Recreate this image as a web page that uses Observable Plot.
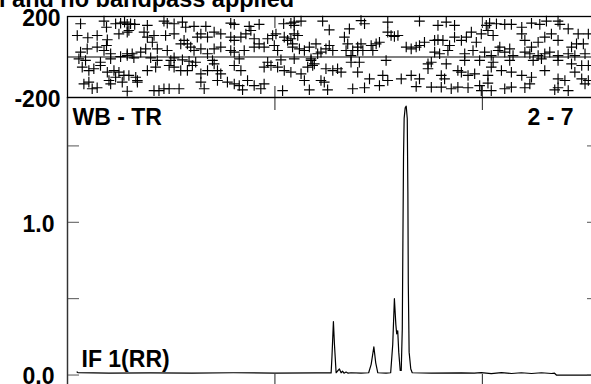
<!DOCTYPE html>
<html><head><meta charset="utf-8">
<script src="https://cdn.jsdelivr.net/npm/d3@7"></script>
<script src="https://cdn.jsdelivr.net/npm/@observablehq/plot@0.6"></script>
<style>
html,body{margin:0;padding:0;background:#fff;overflow:hidden;}
#wrap{position:relative;width:591px;height:384px;overflow:hidden;background:#fff;}
#wrap svg{position:absolute;left:0;top:0;}
#title{position:absolute;left:-1px;top:-11.8px;font:bold 23.5px/23.5px "Liberation Sans",Arial,sans-serif;white-space:nowrap;color:#000;}
</style></head><body>
<div id="wrap"><div id="title">l and no bandpass applied</div></div>
<script>
// ---- data ----
const chanDomain = [0, 256];
const chanTicks = [100, 200];
const phaseDomain = [-200, 200];
const phaseTickLabels = [-200, 200];
const ampDomain = [-0.075, 1.817];
const ampTicks = [0, 0.5, 1.0, 1.5];
const ampTickLabels = [0, 1.0];
const panelLabels = ["WB - TR", "2 - 7", "IF 1(RR)"];

// phase samples [channel, degrees]
const phaseSamples = [
[6.3,164],[17.6,177],[18.8,147],[23.2,164],[25.6,167],[27.5,172],[28.8,161],[30.4,164],[32.4,161],[38.5,156],[46.5,177],[48.1,167],[51.4,164],[55.4,172],[57.0,147],[61.0,151],[66.7,151],[78.7,167],[80.4,161],[87.6,151],[92.4,161],[104.2,164],[107.7,167],[109.3,156],
[4.7,106],[9.8,95],[14.3,106],[19.2,85],[18.8,57],[24.8,114],[28.8,123],[29.6,131],[36.9,123],[38.5,98],[41.7,106],[40.9,73],[47.3,106],[51.4,114],[56.2,82],[57.8,65],[62.6,98],[64.3,114],[67.5,98],[70.7,123],[73.9,114],[78.7,98],[80.4,82],[83.6,98],[86.0,114],[88.4,131],[90.0,90],[92.4,65],[96.5,90],[98.9,106],[100.5,114],[104.5,98],[106.1,82],[109.3,114],[111.0,106],
[6.3,24],[9.5,40],[14.3,49],[17.6,32],[20.8,16],[28.8,16],[31.2,16],[35.3,24],[37.7,40],[43.3,40],[48.1,32],[54.6,65],[59.4,49],[61.0,32],[64.3,40],[67.5,16],[70.7,40],[73.9,49],[78.7,32],[80.4,24],[85.2,32],[90.0,49],[94.8,49],[99.7,57],[101.3,32],[108.5,49],
[5.5,-9],[8.7,-17],[15.9,-26],[20.8,-9],[25.6,2],[28.8,7],[32.0,-4],[40.1,-4],[43.3,-17],[49.8,-17],[51.4,-4],[55.4,-14],[58.6,-21],[61.8,-26],[69.9,-17],[70.7,-34],[82.8,-9],[96.5,-26],[102.9,-14],[109.3,-9],
[7.1,-50],[10.3,-67],[12.7,-58],[15.9,-42],[19.2,-75],[22.4,-67],[23.2,-100],[24.8,-75],[27.2,-91],[29.6,-91],[32.9,-100],[33.7,-116],[38.5,-67],[42.5,-50],[49.0,-42],[51.4,-50],[54.6,-67],[57.8,-67],[60.2,-42],[64.3,-83],[67.5,-67],[72.3,-67],[73.9,-83],[80.4,-42],[83.6,-67],[94.8,-50],[98.1,-42],[101.3,-50],[104.5,-67],[107.7,-75],
[7.9,-133],[10.3,-124],[11.9,-157],[14.3,-152],[20.0,-116],[20.8,-133],[26.4,-124],[28.8,-169],[33.7,-124],[41.7,-166],[44.1,-166],[46.5,-157],[49.0,-157],[53.8,-157],[64.3,-124],[65.9,-157],[72.3,-116],[77.1,-124],[80.4,-133],[82.8,-141],[84.4,-162],[86.8,-116],[90.0,-141],[93.2,-157],[94.8,-133],[103.7,-166],
[109.3,172],[112.6,177],[123.0,177],[126.2,134],[135.9,139],[141.5,180],[143.2,164],[154.4,172],[169.7,177],[178.6,156],[182.6,172],[186.6,156],[201.9,156],[203.5,167],[206.8,164],[210.8,161],[214.0,161],[219.0,147],[223.7,167],[227.7,161],[230.9,177],[236.5,177],[237.4,161],[241.4,139],[246.2,114],[251.1,114],
[107.7,90],[108.5,65],[111.8,40],[114.2,32],[116.6,49],[119.8,65],[122.2,24],[124.6,40],[126.2,57],[133.5,98],[135.1,65],[137.5,32],[139.9,49],[141.5,65],[146.4,57],[148.8,65],[150.4,73],[154.4,123],[156.0,106],[157.6,101],[159.3,106],[163.3,49],[165.7,40],[168.1,49],[169.7,57],[172.1,73],[177.0,82],[178.6,85],[181.0,82],[184.2,57],[186.6,98],[189.9,82],[192.3,98],[194.7,123],[197.1,73],[199.5,114],[202.7,131],[205.2,106],[208.4,49],[210.8,24],[213.2,40],[219.0,114],[220.5,82],[223.7,49],[226.9,73],[230.1,98],[233.3,114],[236.5,82],[243.0,49],[245.4,65],[248.7,65],[249.5,16],
[117.4,-9],[120.6,16],[127.9,32],[134.3,32],[136.7,7],[139.9,32],[142.4,32],[147.2,32],[177.0,24],[179.4,16],[183.4,32],[191.5,16],[195.5,32],[201.1,24],[204.3,7],[207.6,32],[214.8,7],[220.5,24],[222.9,16],[226.9,7],[230.1,16],[232.5,24],[236.5,7],[241.4,16],[244.6,7],
[117.4,-17],[119.0,-34],[136.7,-26],[140.7,-26],[153.6,-17],[173.8,-34],[175.4,-26],[182.6,-34],[191.5,-17],[198.7,-17],[205.2,-26],[213.2,-17],[224.5,-17],[228.5,-9],[236.5,-17],[243.0,-34],[247.9,-42],[251.1,-42],
[112.6,-83],[115.8,-50],[118.2,-42],[124.6,-58],[127.9,-67],[130.2,-58],[131.9,-75],[139.9,-75],[145.6,-108],[152.0,-91],[160.9,-108],[165.7,-91],[169.7,-108],[173.8,-58],[180.2,-91],[181.8,-108],[188.2,-67],[189.9,-75],[193.1,-91],[196.3,-83],[202.7,-91],[204.3,-50],[209.2,-67],[214.0,-75],[219.0,-91],[223.7,-100],[230.1,-67],[236.5,-108],[239.8,-116],[244.6,-75],[247.9,-108],
[114.2,-116],[116.6,-162],[122.2,-116],[123.8,-124],[125.4,-162],[137.5,-157],[143.2,-152],[150.4,-141],[154.4,-116],[168.1,-146],[175.4,-149],[180.2,-149],[185.0,-157],[188.2,-149],[193.1,-152],[198.7,-141],[199.5,-166],[202.7,-129],[204.3,-166],[210.8,-157],[214.0,-149],[220.5,-152],[222.9,-133],[234.9,-162],[236.5,-152],[241.4,-166],[249.5,-133],[251.1,-116]
];

// amplitude spectrum samples [channel, amplitude]
const specSamples = [
[4.6,0.02],[5.0,0.016],[20,0.013],[40,0.014],[60,0.013],[80,0.015],[100,0.013],[120,0.014],[127.1,0.014],[127.5,0.12],[128.2,0.35],[128.7,0.2],[129.5,0.015],[131.1,0.04],[131.9,0.015],[132.6,0.025],[133.3,0.012],[134.3,0.02],[135.3,0.012],[136.7,0.015],[141.5,0.013],[145.2,0.015],[146.4,0.07],[147.7,0.185],[148.6,0.08],[149.6,0.015],[153.6,0.013],[155.8,0.015],[156.8,0.2],[157.6,0.5],[158.3,0.33],[158.7,0.27],[159.2,0.29],[159.7,0.15],[160.4,0.03],[160.9,0.03],[161.4,0.3],[161.7,0.88],[162.0,1.43],[162.3,1.68],[162.8,1.75],[163.3,1.76],[163.8,1.68],[164.1,1.2],[164.3,0.6],[164.7,0.15],[165.5,0.04],[166.2,0.015],[175.4,0.013],[189.9,0.014],[196.1,0.012],[199.5,0.016],[204.3,0.009],[209.2,0.016],[214.0,0.01],[218.8,0.015],[223.7,0.01],[228.5,0.015],[233.3,0.01],[234.8,0.012],[235.7,0.0],[256,0.0]
];

// ---- charts ----
const font = "bold 23px 'Liberation Sans', Arial, sans-serif";
const common = {
  width: 600, marginLeft: 67, marginRight: 2,
  style: {font, background: "transparent", maxWidth: "none", overflow: "visible", color: "black"}
};

const specPlot = Plot.plot({
  ...common, height: 392, marginTop: 97, marginBottom: 6,
  x: {domain: chanDomain, axis: null},
  y: {domain: ampDomain, axis: null},
  marks: [
    Plot.line(specSamples, {x: d => d[0], y: d => d[1], stroke: "black", strokeWidth: 1.2}),
    Plot.axisX({anchor: "top", ticks: chanTicks, tickSize: -12, fill: "none", stroke: "#222", label: null}),
    Plot.axisX({anchor: "bottom", ticks: chanTicks, tickSize: -12, fill: "none", stroke: "#222", label: null}),
    Plot.axisY({anchor: "left", ticks: ampTicks, tickSize: -12, fill: "none", stroke: "#555", label: null}),
    Plot.axisY({anchor: "right", ticks: ampTicks, tickSize: -12, fill: "none", stroke: "#555", label: null}),
    Plot.axisY({anchor: "left", ticks: ampTickLabels, tickSize: 0, tickPadding: 13, tickFormat: d3.format(".1f"), dy: 2, label: null}),
    Plot.text([panelLabels[0]], {frameAnchor: "top-left", textAnchor: "start", lineAnchor: "bottom", dx: 5, dy: 27, fill: "black"}),
    Plot.text([panelLabels[1]], {frameAnchor: "top-right", textAnchor: "end", lineAnchor: "bottom", dx: -25, dy: 27, fill: "black"}),
    Plot.text([panelLabels[2]], {frameAnchor: "bottom-left", textAnchor: "start", lineAnchor: "bottom", dx: 14, dy: -20, fill: "black"}),
    Plot.ruleX([chanDomain[0]], {stroke: "#666", strokeWidth: 1.4}),
    Plot.frame({stroke: "#333", strokeWidth: 1.2})
  ]
});

const phasePlot = Plot.plot({
  ...common, height: 100, marginTop: 16, marginBottom: 3,
  x: {domain: chanDomain, axis: null},
  y: {domain: phaseDomain, axis: null},
  marks: [
    Plot.ruleY([0], {stroke: "black", strokeWidth: 1.2}),
    Plot.dot(phaseSamples, {x: d => d[0], y: d => d[1], symbol: "plus", r: 3.5, stroke: "black", strokeWidth: 1.15}),
    Plot.axisX({anchor: "top", ticks: chanTicks, tickSize: -11, fill: "none", stroke: "#222", label: null}),
    Plot.axisX({anchor: "bottom", ticks: chanTicks, tickSize: -11, fill: "none", stroke: "#222", label: null}),
    Plot.axisY({anchor: "left", ticks: phaseTickLabels, tickSize: 0, tickPadding: 7, tickFormat: d => String(d), dy: 2, label: null}),
    Plot.frame({stroke: "black", strokeWidth: 1.3})
  ]
});

const wrap = document.getElementById("wrap");
wrap.appendChild(specPlot);
wrap.appendChild(phasePlot);
</script>
</body></html>
